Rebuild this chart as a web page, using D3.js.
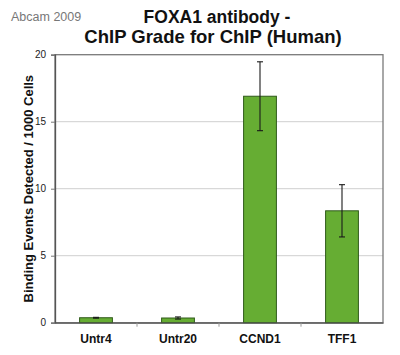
<!DOCTYPE html>
<html><head><meta charset="utf-8">
<script src="https://cdn.jsdelivr.net/npm/d3@7"></script>
<style>body{margin:0;background:#fff}svg{display:block;font-family:"Liberation Sans",Arial,sans-serif}</style>
</head><body><svg id="c" width="400" height="355"></svg>
<script>
const categories = ["Untr4", "Untr20", "CCND1", "TFF1"];
const values = [0.37, 0.35, 16.9, 8.35];
const errors = [0.03, 0.08, 2.57, 1.95];
const yTicks = [0, 5, 10, 15, 20];

const svg = d3.select("#c");
const m = {l: 55, r: 383, t: 54.7, b: 322.7};
const x = d3.scaleBand().domain(categories).range([m.l, m.r]).paddingInner(0.6).paddingOuter(0.3);
const y = d3.scaleLinear().domain([0, 20]).range([m.b, m.t]);

// gridlines
svg.append("g").selectAll("line").data(yTicks.filter(d => d > 0 && d < 20)).join("line")
  .attr("x1", m.l).attr("x2", m.r).attr("y1", d => y(d)).attr("y2", d => y(d))
  .attr("stroke", "#cfcfcf").attr("stroke-width", 1);

// frame
svg.append("rect").attr("x", m.l).attr("y", m.t).attr("width", m.r - m.l).attr("height", m.b - m.t)
  .attr("fill", "none").attr("stroke", "#7a7a7a").attr("stroke-width", 1.3);

// bars
svg.append("g").selectAll("rect").data(categories).join("rect")
  .attr("x", d => x(d)).attr("width", x.bandwidth())
  .attr("y", (d, i) => y(values[i])).attr("height", (d, i) => y(0) - y(values[i]))
  .attr("fill", "#66ad33").attr("stroke", "#2f5a1a").attr("stroke-width", 1);

// error bars
const eb = svg.append("g").attr("stroke", "#1a1a1a").attr("stroke-width", 1.1);
categories.forEach((c, i) => {
  const cx = x(c) + x.bandwidth() / 2;
  const hi = y(values[i] + errors[i]), lo = y(values[i] - errors[i]);
  eb.append("line").attr("x1", cx).attr("x2", cx).attr("y1", hi).attr("y2", lo);
  eb.append("line").attr("x1", cx - 3).attr("x2", cx + 3).attr("y1", hi).attr("y2", hi);
  eb.append("line").attr("x1", cx - 3).attr("x2", cx + 3).attr("y1", lo).attr("y2", lo);
});

// y axis
const ya = svg.append("g").attr("transform", `translate(${m.l},0)`)
  .call(d3.axisLeft(y).tickValues(yTicks).tickSize(4).tickPadding(5));
ya.select(".domain").attr("stroke", "#555").attr("stroke-width", 1.3);
ya.selectAll(".tick line").attr("stroke", "#777");
ya.selectAll("text").attr("font-size", 10).attr("fill", "#222").attr("font-family", "Liberation Sans, Arial, sans-serif");

// x axis
const xa = svg.append("g").attr("transform", `translate(0,${m.b})`)
  .call(d3.axisBottom(x).tickSize(0).tickPadding(12));
xa.select(".domain").attr("stroke", "#555").attr("stroke-width", 1.3);
xa.selectAll("text").attr("font-size", 12).attr("font-weight", "bold").attr("fill", "#111")
  .attr("font-family", "Liberation Sans, Arial, sans-serif");
// boundary ticks
const bounds = categories.slice(1).map(c => x(c) - x.step() * x.paddingInner() / 2);
svg.append("g").selectAll("line").data(bounds).join("line")
  .attr("x1", d => d).attr("x2", d => d).attr("y1", m.b).attr("y2", m.b + 4)
  .attr("stroke", "#999");

// y title
svg.append("text").attr("transform", `translate(33,${(m.t + m.b) / 2}) rotate(-90)`)
  .attr("text-anchor", "middle").attr("font-size", 13).attr("font-weight", "bold").attr("fill", "#111")
  .text("Binding Events Detected / 1000 Cells");

// titles
svg.append("text").attr("x", 217).attr("y", 23).attr("text-anchor", "middle")
  .attr("font-size", 17.5).attr("font-weight", "bold").attr("fill", "#111").text("FOXA1 antibody -");
svg.append("text").attr("x", 213).attr("y", 43).attr("text-anchor", "middle")
  .attr("font-size", 18.5).attr("font-weight", "bold").attr("fill", "#111").text("ChIP Grade for ChIP (Human)");
svg.append("text").attr("x", 11).attr("y", 21).attr("font-size", 12.5).attr("fill", "#777").text("Abcam 2009");
</script></body></html>
